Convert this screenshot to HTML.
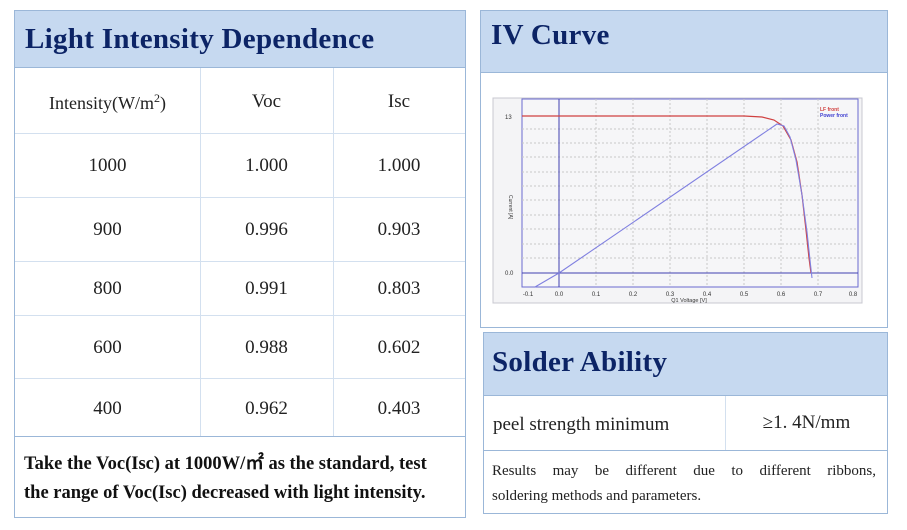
<!DOCTYPE html>
<html><head><meta charset="utf-8"><style>
body{margin:0;width:907px;height:530px;background:#fff;position:relative;overflow:hidden;font-family:"Liberation Serif",serif;}
.a{position:absolute;box-sizing:border-box}
.hdr{background:#c6d9f0;color:#0c2466;font-weight:bold;font-size:29px;letter-spacing:0.3px}
.c{text-align:center;color:#222;font-size:19px}
</style></head><body>
<!-- Left table -->
<div class="a" style="left:14px;top:10px;width:452px;height:508px;border:1px solid #9bb7d8"></div>
<div class="a hdr" style="left:15px;top:11px;width:450px;height:57px;padding:12px 0 0 10px;border-bottom:1px solid #9bb7d8">Light Intensity Dependence</div>
<div class="a" style="left:200px;top:68px;width:1px;height:368px;background:#d3e0ef"></div>
<div class="a" style="left:333px;top:68px;width:1px;height:368px;background:#d3e0ef"></div>
<div class="a" style="left:15px;top:133px;width:450px;height:1px;background:#d3e0ef"></div>
<div class="a" style="left:15px;top:197px;width:450px;height:1px;background:#d3e0ef"></div>
<div class="a" style="left:15px;top:261px;width:450px;height:1px;background:#d3e0ef"></div>
<div class="a" style="left:15px;top:315px;width:450px;height:1px;background:#d3e0ef"></div>
<div class="a" style="left:15px;top:378px;width:450px;height:1px;background:#d3e0ef"></div>
<div class="a" style="left:15px;top:436px;width:450px;height:1px;background:#9bb7d8"></div>
<div class="a c" style="left:15px;top:91px;width:185px;font-size:18px">Intensity(W/m<sup style="font-size:12px">2</sup>)</div>
<div class="a c" style="left:200px;top:91px;width:133px">Voc</div>
<div class="a c" style="left:333px;top:91px;width:132px">Isc</div>
<div class="a c" style="left:15px;top:155px;width:185px">1000</div><div class="a c" style="left:200px;top:155px;width:133px">1.000</div><div class="a c" style="left:333px;top:155px;width:132px">1.000</div>
<div class="a c" style="left:15px;top:219px;width:185px">900</div><div class="a c" style="left:200px;top:219px;width:133px">0.996</div><div class="a c" style="left:333px;top:219px;width:132px">0.903</div>
<div class="a c" style="left:15px;top:278px;width:185px">800</div><div class="a c" style="left:200px;top:278px;width:133px">0.991</div><div class="a c" style="left:333px;top:278px;width:132px">0.803</div>
<div class="a c" style="left:15px;top:337px;width:185px">600</div><div class="a c" style="left:200px;top:337px;width:133px">0.988</div><div class="a c" style="left:333px;top:337px;width:132px">0.602</div>
<div class="a c" style="left:15px;top:398px;width:185px">400</div><div class="a c" style="left:200px;top:398px;width:133px">0.962</div><div class="a c" style="left:333px;top:398px;width:132px">0.403</div>
<div class="a" style="left:24px;top:450px;width:440px;font-size:18.5px;font-weight:bold;color:#111;line-height:29px;white-space:nowrap">Take the Voc(Isc) at 1000W/㎡ as the standard, test<br>the range of Voc(Isc) decreased with light intensity.</div>
<!-- IV curve -->
<div class="a" style="left:480px;top:10px;width:408px;height:318px;border:1px solid #9bb7d8"></div>
<div class="a hdr" style="left:481px;top:11px;width:406px;height:62px;padding:8px 0 0 10px;border-bottom:1px solid #9bb7d8">IV Curve</div>
<svg class="a" style="left:0;top:0" width="907" height="530" font-family="Liberation Sans,sans-serif">
<rect x="493" y="98" width="369" height="205" fill="#f4f4f6" stroke="#c8c8d0"/>
<rect x="522" y="99" width="336" height="188" fill="#f6f6f8" stroke="#6a6ad0"/>
<g stroke="#c8c8c8" stroke-dasharray="2,2">
<line x1="596" y1="99" x2="596" y2="287"/><line x1="633" y1="99" x2="633" y2="287"/><line x1="670" y1="99" x2="670" y2="287"/><line x1="707" y1="99" x2="707" y2="287"/><line x1="744" y1="99" x2="744" y2="287"/><line x1="781" y1="99" x2="781" y2="287"/><line x1="818" y1="99" x2="818" y2="287"/>
<line x1="522" y1="129" x2="858" y2="129"/><line x1="522" y1="143" x2="858" y2="143"/><line x1="522" y1="157" x2="858" y2="157"/><line x1="522" y1="172" x2="858" y2="172"/><line x1="522" y1="186" x2="858" y2="186"/><line x1="522" y1="200" x2="858" y2="200"/><line x1="522" y1="215" x2="858" y2="215"/><line x1="522" y1="229" x2="858" y2="229"/><line x1="522" y1="244" x2="858" y2="244"/><line x1="522" y1="258" x2="858" y2="258"/>
</g>
<line x1="559" y1="99" x2="559" y2="287" stroke="#4040b0"/>
<line x1="522" y1="273" x2="858" y2="273" stroke="#4040b0"/>
<polyline fill="none" stroke="#d04040" stroke-width="1.2" points="522,116 744,116 762,117 774,120 783,126 791,140 797,162 802,195 806,230 809,258 811,273"/>
<polyline fill="none" stroke="#8080e0" stroke-width="1.1" points="535,287 559,273 777,124 784,126 790,137 796,160 802,195 807,232 810,260 812,278"/>
<text x="820" y="111" font-size="5" fill="#d04040" font-weight="bold">LF front</text>
<text x="820" y="117" font-size="5" fill="#4040d0" font-weight="bold">Power front</text>
<text x="505" y="119" font-size="6" fill="#333">13</text>
<text x="505" y="275" font-size="6" fill="#333">0.0</text>
<text x="509" y="195" font-size="5" fill="#333" transform="rotate(90 509 195)">Current [A]</text>
<g font-size="6" fill="#333" text-anchor="middle">
<text x="528" y="296">-0.1</text><text x="559" y="296">0.0</text><text x="596" y="296">0.1</text><text x="633" y="296">0.2</text><text x="670" y="296">0.3</text><text x="707" y="296">0.4</text><text x="744" y="296">0.5</text><text x="781" y="296">0.6</text><text x="818" y="296">0.7</text><text x="853" y="296">0.8</text>
<text x="689" y="302" font-size="5.5">Q1 Voltage [V]</text></g>
</svg>
<!-- Solder -->
<div class="a" style="left:483px;top:332px;width:405px;height:182px;border:1px solid #9bb7d8"></div>
<div class="a hdr" style="left:484px;top:333px;width:403px;height:63px;padding:13px 0 0 8px;border-bottom:1px solid #9bb7d8">Solder Ability</div>
<div class="a" style="left:725px;top:396px;width:1px;height:54px;background:#d3e0ef"></div>
<div class="a" style="left:484px;top:450px;width:403px;height:1px;background:#9bb7d8"></div>
<div class="a" style="left:493px;top:414px;font-size:19px;color:#222">peel strength minimum</div>
<div class="a c" style="left:726px;top:412px;width:161px">≥1. 4N/mm</div>
<div class="a" style="left:492px;top:457px;width:384px;font-size:15px;color:#222;line-height:29px;text-align:justify;text-align-last:justify">Results may be different due to different ribbons,</div>
<div class="a" style="left:492px;top:486px;font-size:15px;color:#222;line-height:20px">soldering methods and parameters.</div>
</body></html>
